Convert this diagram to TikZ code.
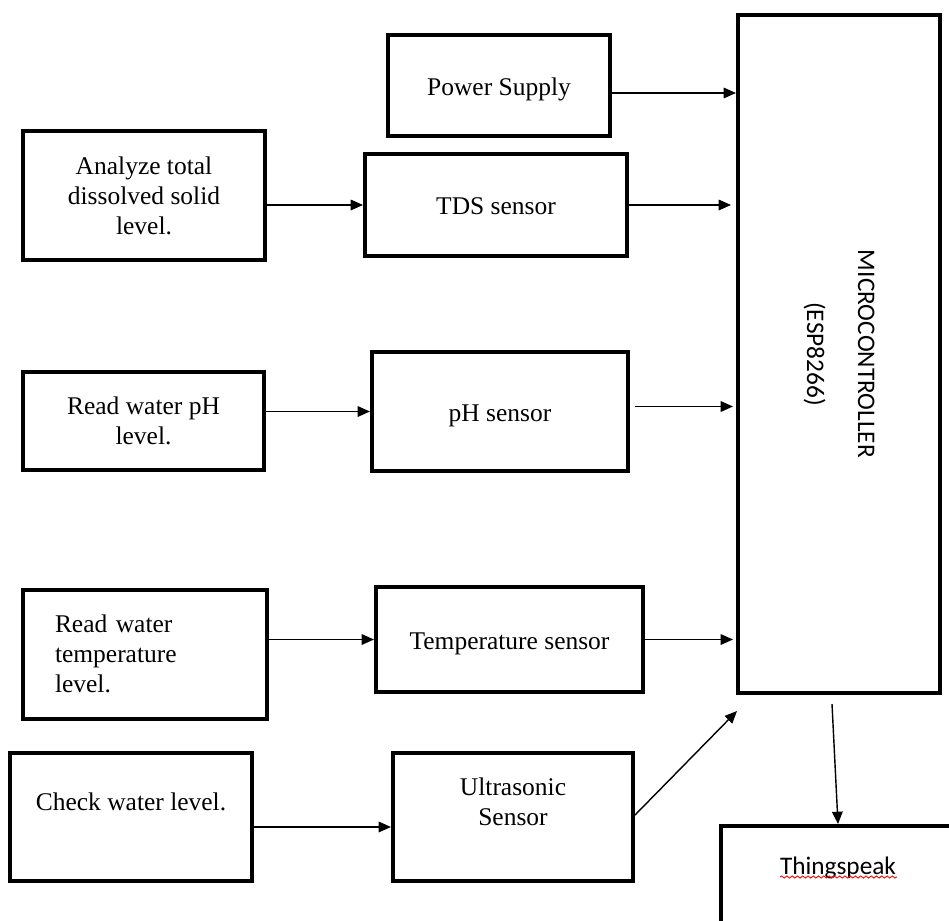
\documentclass[tikz,border=0pt]{standalone}
\usepackage{fontspec}
\setmainfont{Liberation Serif}
\newfontfamily\calibri{Carlito}
\usetikzlibrary{arrows.meta,decorations.pathmorphing}
\newlength{\px}
\setlength{\px}{0.02cm}
\begin{document}
\begin{tikzpicture}[x=0.02cm,y=-0.02cm,
    block/.style={draw, line width=4\px, align=center, inner sep=0pt,
        font=\fontsize{14.5}{17}\selectfont},
    oneline/.style={text height=14pt, text depth=3pt},
    arr/.style={-{Triangle[length=7pt,width=6pt]}, line width=0.8pt}]
    \useasboundingbox (0,0) rectangle (949,920);
    \clip (0,0) rectangle (949,920);
    \node[block, oneline, minimum width=222\px, minimum height=101\px] (pw) at (499,85.5) {Power Supply};
    \node[block, minimum width=242\px, minimum height=129\px] (an) at (144,195.5) {Analyze total\\dissolved solid\\level.};
    \node[block, oneline, minimum width=262\px, minimum height=102\px] (tds) at (496,205) {TDS sensor};
    \node[block, minimum width=241\px, minimum height=98\px] (rph) at (143.5,421) {Read water pH\\level.};
    \node[block, oneline, minimum width=256\px, minimum height=119\px] (phs) at (500,411.5) {pH sensor};
    \node[block, minimum width=244\px, minimum height=129\px, text width=180\px, align=left] (rt) at (145,654) {Read water\\temperature\\level.};
    \node[block, oneline, minimum width=267\px, minimum height=105\px] (tmp) at (509.5,639.5) {Temperature sensor};
    \node[block, minimum width=242\px, minimum height=128\px] (cw) at (131,817) {Check water level.\\\mbox{}};
    \node[block, minimum width=240\px, minimum height=128\px] (us) at (513,817) {Ultrasonic\\Sensor\\\mbox{}};
    \node[block, minimum width=202\px, minimum height=678\px] (mcu) at (839,354) {};
    \node[rotate=-90, align=center, font=\calibri\fontsize{14.4}{17}\selectfont] (mcutext) at (mcu.center) {MICROCONTROLLER\\[12pt](ESP8266)};
    \node[block, minimum width=234\px, minimum height=110\px, font=\calibri\fontsize{14.4}{17}\selectfont] (tsp) at (838,881) {Thingspeak\\\mbox{}};
    \draw[red, line width=0.5pt, decorate, decoration={snake, amplitude=0.6pt, segment length=3pt}] (780,877) -- (897,877);
    \coordinate (mcuin) at (737,711);
    \draw[arr] ([yshift=-0.15cm]pw.east) -- ([yshift=-0.15cm]pw.east -| mcu.west);
    \draw[arr] (an.east |- tds.west) -- (tds.west);
    \draw[arr] (tds.east) -- ([xshift=-0.1cm]tds.east -| mcu.west);
    \draw[arr] (rph.east |- phs.west) -- (phs.west);
    \draw[arr] ([xshift=0.1cm,yshift=0.1cm]phs.east) -- ([xshift=-0.06cm,yshift=0.1cm]phs.east -| mcu.west);
    \draw[arr] (rt.east |- tmp.west) -- (tmp.west);
    \draw[arr] (tmp.east) -- ([xshift=-0.06cm]tmp.east -| mcu.west);
    \draw[arr] ([yshift=-0.2cm]cw.east) -- ([yshift=-0.2cm]us.west);
    \draw[arr] ([yshift=0.04cm]us.east) -- (mcuin);
    \draw[arr] ([shift={(-7,9)}]mcu.south) -- (tsp.north);
\end{tikzpicture}
\end{document}
